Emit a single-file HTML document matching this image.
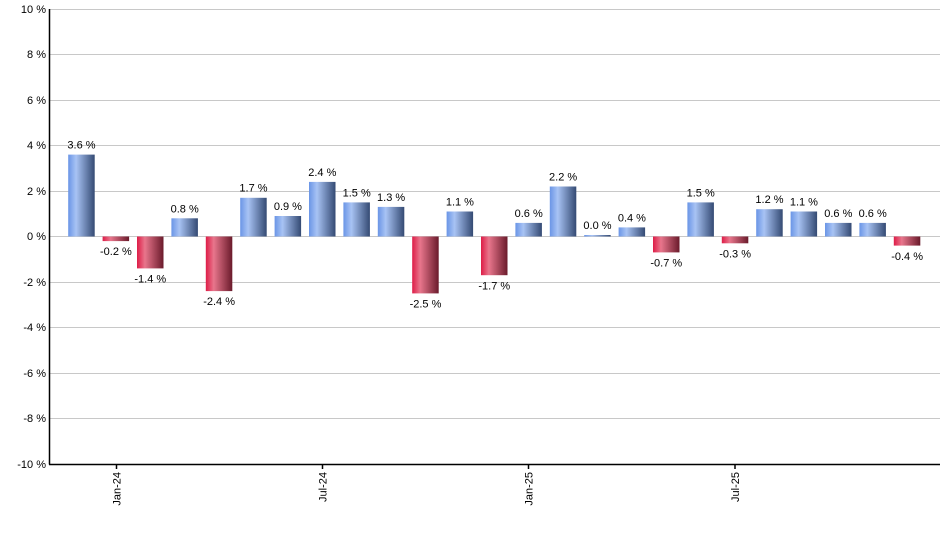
<!DOCTYPE html>
<html><head><meta charset="utf-8"><style>
body{margin:0;background:#fff}
svg{display:block;font-family:"Liberation Sans",Arial,sans-serif;font-size:11px}
</style></head><body>
<svg width="940" height="550" viewBox="0 0 940 550" xmlns="http://www.w3.org/2000/svg">
<defs>
<linearGradient id="b" x1="0" x2="1" y1="0" y2="0"><stop offset="0" stop-color="#6a95e6"/><stop offset="0.3" stop-color="#a8c3f4"/><stop offset="1" stop-color="#344a73"/></linearGradient>
<linearGradient id="r" x1="0" x2="1" y1="0" y2="0"><stop offset="0" stop-color="#de1c47"/><stop offset="0.3" stop-color="#e8768c"/><stop offset="1" stop-color="#6a1a2b"/></linearGradient>
</defs>
<g stroke="#c8c8c8" stroke-width="1">
<line x1="50" x2="940" y1="9.5" y2="9.5"/><line x1="50" x2="940" y1="54.5" y2="54.5"/><line x1="50" x2="940" y1="100.5" y2="100.5"/><line x1="50" x2="940" y1="145.5" y2="145.5"/><line x1="50" x2="940" y1="191.5" y2="191.5"/><line x1="50" x2="940" y1="236.5" y2="236.5"/><line x1="50" x2="940" y1="282.5" y2="282.5"/><line x1="50" x2="940" y1="327.5" y2="327.5"/><line x1="50" x2="940" y1="373.5" y2="373.5"/><line x1="50" x2="940" y1="418.5" y2="418.5"/>
</g>
<g text-anchor="end" fill="#000">
<text x="46" y="13">10 %</text><text x="46" y="58">8 %</text><text x="46" y="104">6 %</text><text x="46" y="149">4 %</text><text x="46" y="195">2 %</text><text x="46" y="240">0 %</text><text x="46" y="286">-2 %</text><text x="46" y="331">-4 %</text><text x="46" y="377">-6 %</text><text x="46" y="422">-8 %</text><text x="46" y="468">-10 %</text>
</g>
<g>
<rect x="68.2" y="154.6" width="26.5" height="81.9" fill="url(#b)"/>
<rect x="102.6" y="236.5" width="26.5" height="4.6" fill="url(#r)"/>
<rect x="137" y="236.5" width="26.5" height="31.9" fill="url(#r)"/>
<rect x="171.4" y="218.3" width="26.5" height="18.2" fill="url(#b)"/>
<rect x="205.8" y="236.5" width="26.5" height="54.6" fill="url(#r)"/>
<rect x="240.2" y="197.8" width="26.5" height="38.7" fill="url(#b)"/>
<rect x="274.6" y="216" width="26.5" height="20.5" fill="url(#b)"/>
<rect x="309" y="181.9" width="26.5" height="54.6" fill="url(#b)"/>
<rect x="343.4" y="202.4" width="26.5" height="34.1" fill="url(#b)"/>
<rect x="377.8" y="206.9" width="26.5" height="29.6" fill="url(#b)"/>
<rect x="412.2" y="236.5" width="26.5" height="56.9" fill="url(#r)"/>
<rect x="446.6" y="211.5" width="26.5" height="25" fill="url(#b)"/>
<rect x="481" y="236.5" width="26.5" height="38.7" fill="url(#r)"/>
<rect x="515.4" y="222.9" width="26.5" height="13.6" fill="url(#b)"/>
<rect x="549.8" y="186.5" width="26.5" height="50" fill="url(#b)"/>
<rect x="584.2" y="235" width="26.5" height="1.5" fill="url(#b)"/>
<rect x="618.6" y="227.4" width="26.5" height="9.1" fill="url(#b)"/>
<rect x="653" y="236.5" width="26.5" height="15.9" fill="url(#r)"/>
<rect x="687.4" y="202.4" width="26.5" height="34.1" fill="url(#b)"/>
<rect x="721.8" y="236.5" width="26.5" height="6.8" fill="url(#r)"/>
<rect x="756.2" y="209.2" width="26.5" height="27.3" fill="url(#b)"/>
<rect x="790.6" y="211.5" width="26.5" height="25" fill="url(#b)"/>
<rect x="825" y="222.9" width="26.5" height="13.6" fill="url(#b)"/>
<rect x="859.4" y="222.9" width="26.5" height="13.6" fill="url(#b)"/>
<rect x="893.8" y="236.5" width="26.5" height="9.1" fill="url(#r)"/>
</g>
<g text-anchor="middle" fill="#000">
<text x="81.5" y="148.5">3.6 %</text>
<text x="115.9" y="255">-0.2 %</text>
<text x="150.3" y="282.5">-1.4 %</text>
<text x="184.7" y="212.5">0.8 %</text>
<text x="219.1" y="305">-2.4 %</text>
<text x="253.5" y="191.5">1.7 %</text>
<text x="287.9" y="210">0.9 %</text>
<text x="322.3" y="176">2.4 %</text>
<text x="356.7" y="196.5">1.5 %</text>
<text x="391.1" y="201">1.3 %</text>
<text x="425.5" y="307.5">-2.5 %</text>
<text x="459.9" y="205.5">1.1 %</text>
<text x="494.3" y="289.5">-1.7 %</text>
<text x="528.7" y="217">0.6 %</text>
<text x="563.1" y="180.5">2.2 %</text>
<text x="597.5" y="229">0.0 %</text>
<text x="631.9" y="221.5">0.4 %</text>
<text x="666.3" y="266.5">-0.7 %</text>
<text x="700.7" y="196.5">1.5 %</text>
<text x="735.1" y="257.5">-0.3 %</text>
<text x="769.5" y="203">1.2 %</text>
<text x="803.9" y="205.5">1.1 %</text>
<text x="838.3" y="217">0.6 %</text>
<text x="872.7" y="217">0.6 %</text>
<text x="907.1" y="260">-0.4 %</text>
</g>
<g stroke="#000" stroke-width="1.5">
<line x1="49.5" x2="49.5" y1="9" y2="464.5"/>
<line x1="49" x2="940" y1="464.5" y2="464.5"/>
<line x1="116.5" x2="116.5" y1="464" y2="469"/>
<line x1="322.5" x2="322.5" y1="464" y2="469"/>
<line x1="528.5" x2="528.5" y1="464" y2="469"/>
<line x1="735" x2="735" y1="464" y2="469"/>
</g>
<g fill="#000" text-anchor="end">
<text transform="translate(120.5,472) rotate(-90)">Jan-24</text>
<text transform="translate(326.5,472) rotate(-90)">Jul-24</text>
<text transform="translate(532.5,472) rotate(-90)">Jan-25</text>
<text transform="translate(739,472) rotate(-90)">Jul-25</text>
</g>
</svg>
</body></html>
